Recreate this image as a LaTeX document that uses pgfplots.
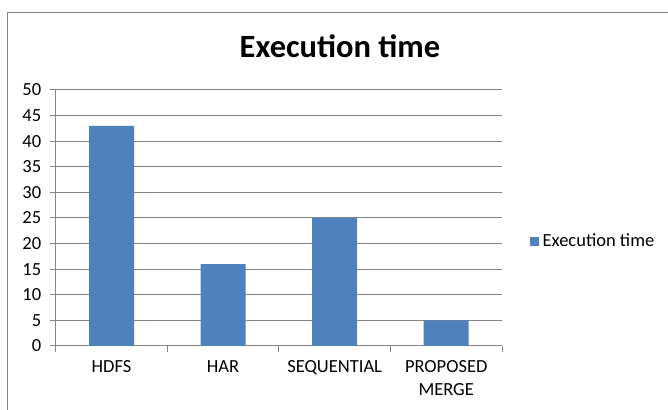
\documentclass[border=0pt]{standalone}
\usepackage{pgfplots}
\pgfplotsset{compat=1.18}
\usepackage{fontspec}
\setmainfont{Carlito}
\definecolor{barblue}{HTML}{4F81BD}
\definecolor{axgray}{HTML}{868686}
\begin{document}
\begin{tikzpicture}
\path[use as bounding box] (0pt,0pt) rectangle (668pt,409pt);
\draw[axgray, line width=1.3pt] (7.5pt,-2pt) -- (7.5pt,396.5pt) -- (670pt,396.5pt);
\node[font=\fontsize{32.5}{38}\selectfont\bfseries, anchor=base] at (340pt,351pt) {Execution time};
\begin{axis}[
  at={(111.5pt,63pt)}, anchor=origin,
  scale only axis, width=446.3pt, height=256pt,
  xmin=-0.5, xmax=3.5, ymin=0, ymax=50,
  ytick={0,5,...,50},
  xtick={0,1,2,3},
  xticklabels={HDFS,HAR,SEQUENTIAL,{PROPOSED\\MERGE}},
  minor xtick={-0.5,0.5,1.5,2.5,3.5},
  axis x line*=bottom, axis y line*=left,
  axis line style={axgray, line width=1pt, -},
  ymajorgrids, major grid style={axgray, line width=1pt},
  major x tick style={draw=none},
  minor x tick style={axgray, line width=1pt},
  major y tick style={axgray, line width=1pt},
  tick align=outside, major tick length=6pt, minor tick length=6pt,
  /pgf/number format/assume math mode=true,
  ticklabel style={font=\fontsize{18.5}{23}\selectfont, text=black},
  yticklabel style={anchor=east, xshift=-5pt},
  xticklabel style={align=center, anchor=north, yshift=-5pt},
  legend style={at={(1,0.41)}, anchor=west, xshift=28pt, draw=none, fill=none,
    font=\fontsize{18.5}{22}\selectfont, inner sep=0pt,
    /tikz/every odd column/.style={}},
  legend image code/.code={\fill[barblue] (0pt,-4.5pt) rectangle (8.5pt,4.5pt);},
  legend style={nodes={inner xsep=4pt}},
]
\addplot[ybar, bar width=45pt, fill=barblue, draw=none] coordinates {(0,43) (1,16) (2,25) (3,5)};
\addlegendentry{Execution time}
\end{axis}
\end{tikzpicture}
\end{document}
